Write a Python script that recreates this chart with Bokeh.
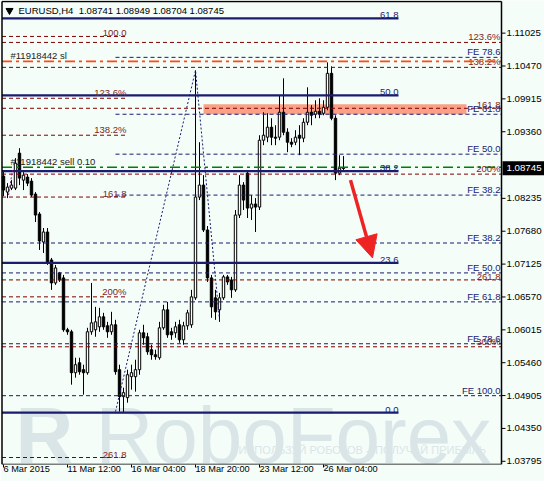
from bokeh.plotting import figure
from bokeh.models import FixedTicker, Arrow, NormalHead
from bokeh.core.properties import value
from bokeh.embed import file_html
from bokeh.resources import INLINE

# ---------------- data (EURUSD H4) ----------------
open_ = [
    1.08610, 1.08341, 1.08408, 1.08408, 1.08998, 1.08543, 1.08594, 1.08526, 1.08307, 1.07970,
    1.07498, 1.07667, 1.07195, 1.06807, 1.06976, 1.06892, 1.06016, 1.05982, 1.05291, 1.05459,
    1.05342, 1.05291, 1.05982, 1.06016, 1.06066, 1.06235, 1.06083, 1.05982, 1.06100, 1.05342,
    1.04887, 1.04870, 1.05224, 1.05224, 1.05342, 1.05965, 1.05898, 1.05679, 1.05594, 1.05544,
    1.06049, 1.06353, 1.05982, 1.05965, 1.06100, 1.05847, 1.06083, 1.06100, 1.06555, 1.08257,
    1.08459, 1.07701, 1.06892, 1.06555, 1.06353, 1.06555, 1.06909, 1.06858, 1.06690, 1.07953,
    1.08459, 1.08661, 1.08071, 1.08139, 1.08088, 1.09217, 1.09268, 1.09436, 1.09268, 1.09268,
    1.09689, 1.09352, 1.09183, 1.09183, 1.09301, 1.09251, 1.09520, 1.09689, 1.09655, 1.09706,
    1.09672, 1.09773, 1.10346, 1.09588, 1.08661, 1.08741]
high = [
    1.08712, 1.08492, 1.08543, 1.08914, 1.09082, 1.08678, 1.08644, 1.08577, 1.08341, 1.08004,
    1.07734, 1.07734, 1.07229, 1.07111, 1.06993, 1.06942, 1.06049, 1.06016, 1.05544, 1.05544,
    1.05426, 1.06049, 1.06807, 1.06403, 1.06386, 1.06302, 1.06150, 1.06319, 1.06184, 1.05426,
    1.05038, 1.05342, 1.05426, 1.05510, 1.06016, 1.06100, 1.05965, 1.05763, 1.05679, 1.06150,
    1.06437, 1.06487, 1.06049, 1.06150, 1.06184, 1.06150, 1.06353, 1.06690, 1.10397, 1.09183,
    1.08627, 1.07768, 1.06942, 1.06690, 1.06639, 1.06942, 1.06942, 1.06909, 1.08038, 1.08627,
    1.08509, 1.08712, 1.08290, 1.08240, 1.09301, 1.09689, 1.09672, 1.09588, 1.09470, 1.09975,
    1.10262, 1.09419, 1.09251, 1.09386, 1.09470, 1.09588, 1.10110, 1.09807, 1.09891, 1.09925,
    1.09891, 1.10531, 1.10464, 1.09638, 1.08964, 1.08949]
low = [
    1.08273, 1.08240, 1.08375, 1.08375, 1.08459, 1.08375, 1.08442, 1.08257, 1.07835, 1.07364,
    1.07313, 1.07111, 1.06690, 1.06774, 1.06824, 1.05982, 1.05931, 1.05089, 1.05207, 1.05257,
    1.04920, 1.05257, 1.05931, 1.05898, 1.05982, 1.06016, 1.05881, 1.05931, 1.05257, 1.04634,
    1.04617, 1.04785, 1.05005, 1.04971, 1.05257, 1.05763, 1.05594, 1.05510, 1.05510, 1.05510,
    1.06016, 1.05881, 1.05847, 1.05881, 1.05796, 1.05763, 1.06016, 1.06049, 1.06521, 1.08206,
    1.07667, 1.06824, 1.06218, 1.06184, 1.06150, 1.06521, 1.06774, 1.06555, 1.06656, 1.07903,
    1.08038, 1.07903, 1.07869, 1.07667, 1.08038, 1.09133, 1.09183, 1.09133, 1.09133, 1.09217,
    1.09301, 1.09015, 1.09099, 1.09133, 1.08964, 1.09183, 1.09470, 1.09470, 1.09588, 1.09588,
    1.09638, 1.09723, 1.09554, 1.08543, 1.08627, 1.08704]
close = [
    1.08375, 1.08425, 1.08459, 1.08829, 1.08577, 1.08627, 1.08492, 1.08290, 1.07953, 1.07515,
    1.07667, 1.07161, 1.06807, 1.07060, 1.06858, 1.06016, 1.05982, 1.05291, 1.05426, 1.05308,
    1.05291, 1.05982, 1.06133, 1.06150, 1.06235, 1.06066, 1.05982, 1.06100, 1.05308, 1.04887,
    1.04954, 1.05257, 1.05291, 1.05342, 1.05965, 1.05881, 1.05645, 1.05594, 1.05561, 1.06049,
    1.06353, 1.05931, 1.05931, 1.06066, 1.05847, 1.06083, 1.06302, 1.06572, 1.08257, 1.08459,
    1.07701, 1.06892, 1.06403, 1.06319, 1.06555, 1.06909, 1.06824, 1.06690, 1.07953, 1.08459,
    1.08206, 1.08071, 1.08139, 1.08088, 1.09217, 1.09301, 1.09436, 1.09268, 1.09251, 1.09689,
    1.09352, 1.09183, 1.09150, 1.09268, 1.09251, 1.09520, 1.09689, 1.09638, 1.09706, 1.09655,
    1.09773, 1.10346, 1.09588, 1.08661, 1.08745, 1.08745]
bar_index = list(range(len(close)))

time_tick_index = [0, 16, 32, 48, 64, 80]
time_tick_labels = ["6 Mar 2015", "11 Mar 12:00", "16 Mar 04:00",
                    "18 Mar 20:00", "23 Mar 12:00", "26 Mar 04:00"]
price_ticks = [1.11025, 1.10470, 1.09915, 1.09360, 1.08235, 1.07680, 1.07125,
               1.06570, 1.06015, 1.05460, 1.04905, 1.04350, 1.03795]

# Fibonacci retracement (solid navy)
fibo_levels = [1.11273, 1.09975, 1.08695, 1.07144, 1.04617]
fibo_labels = ["61.8", "50.0", "38.2", "23.6", "0.0"]
# Fibo expansion, full width (dark red dashed)
expA_levels = [1.10868, 1.10447, 1.09756, 1.08644, 1.06858, 1.05729]
expA_labels = ["123.6%", "138.2%", "161.8", "200%", "261.8", "300%"]
# Fibo expansion, short (dark red dashed)
expB_levels = [1.10969, 1.09925, 1.09301, 1.08257, 1.06572, 1.03859]
expB_labels = ["100.0", "123.6%", "138.2%", "161.8", "200%", "261.8"]
# Fibo extension 1 (navy dashed, starts at bar 28)
fe1_levels = [1.10616, 1.09655, 1.08981, 1.08290]
fe1_labels = ["FE 78.6", "FE 61.8", "FE 50.0", "FE 38.2"]
# Fibo extension 2 (navy dashed, full width)
fe2_levels = [1.07481, 1.06976, 1.06487, 1.05780, 1.04903]
fe2_labels = ["FE 38.2", "FE 50.0", "FE 61.8", "FE 78.6", "FE 100.0"]

sl_price = 1.10548
sell_price = 1.08760
zone_top, zone_bottom = 1.09824, 1.09655
zone_left, zone_right = 50, 115.75
zigzag_x = [28, 48, 54]
zigzag_y = [1.04634, 1.10397, 1.06184]
small_dot_x = [1.25, 2.25]
small_dot_y = [1.08290, 1.08712]
arrow_x = (86.75, 92.25)
arrow_y = (1.08543, 1.07229)

# ---------------- style / geometry ----------------
FONT = "Liberation Sans"
BG = "#f4fdf8"
NAVY = "#1b1b70"
MAROON = "#800000"
RED_TXT = "#7f1d1d"
SALMON = "#f9a086"
ORANGE = "#ff4a10"
GREEN = "#008000"
ARROW_RED = "#ee2424"
WM = "#dae5e8"

PX_PRICE = 0.0001685          # price per screen pixel (vertical)
X_START, X_END = -0.75, 135.25
Y_LOW, Y_HIGH = 1.03741, 1.11576
FRAME_L, FRAME_R = -0.375, 124.5
FRAME_B, FRAME_T = 1.03741, 1.11559
FULL_LABEL_X = 124.25
FIBO_RIGHT = 98.75
EXPB_RIGHT = 30.75
FE1_LEFT = 28
AX_TICK_END = 125.5
AX_LABEL_X = 125.75
LBL = "9.5px"
AX_FONT_SIZE = "9.7px"

p = figure(width=544, height=481, x_range=(X_START, X_END), y_range=(Y_LOW, Y_HIGH),
           y_axis_location=None, output_backend="svg", toolbar_location=None,
           background_fill_color=BG, border_fill_color=BG,
           min_border_left=0, min_border_top=0, min_border_right=0, min_border_bottom=0)
p.grid.visible = False
p.outline_line_color = None

# time axis: tick marks at the bars; a tiny negative orientation makes Bokeh
# anchor each label at its left edge (MT4 style) instead of centering it.
xa = p.xaxis[0]
xa.axis_label = None
xa.ticker = FixedTicker(ticks=time_tick_index)
xa.major_label_overrides = {t: s for t, s in zip(time_tick_index, time_tick_labels)}
xa.major_label_orientation = -0.0001
xa.major_label_standoff = 1
xa.major_label_text_font = FONT
xa.major_label_text_font_size = "9.2px"
xa.major_label_text_color = "black"
xa.major_tick_in = 0
xa.major_tick_out = 3
xa.minor_tick_in = 0
xa.minor_tick_out = 0
xa.axis_line_color = None
xa.major_tick_line_color = "black"

# ---------------- watermark ----------------
wm_base = 1.04229
p.text(x=[3], y=[wm_base], text=["R"], text_font=value(FONT), text_font_style="bold",
       text_font_size="80px", text_color=WM, text_baseline="alphabetic")
p.text(x=[23], y=[wm_base], text=["RoboForex"], text_font=value(FONT),
       text_font_size="80px", text_color=WM, text_baseline="alphabetic")
p.text(x=[58.75], y=[1.03994], text=["ИСПОЛЬЗУЙ РОБОТОВ – ПОЛУЧАЙ ПРИБЫЛЬ"],
       text_font=value(FONT), text_font_size="11px", text_color=WM, text_baseline="middle")


def hlines(levels, x0, x1, color, width, dash):
    n = len(levels)
    p.segment(x0=[x0] * n, y0=levels, x1=[x1] * n, y1=levels,
              line_color=color, line_width=width, line_dash=dash)


def tags(levels, texts, x, color, align="right", size=LBL, baseline="bottom"):
    p.text(x=[x] * len(levels), y=levels, text=texts, text_align=align,
           text_baseline=baseline, text_font=value(FONT), text_font_size=size,
           text_color=color)


tags(expA_levels, expA_labels, FULL_LABEL_X, RED_TXT)

# zone
p.quad(left=[zone_left], right=[zone_right], bottom=[zone_bottom], top=[zone_top],
       fill_color=SALMON, line_color=None)

# ---------------- candles ----------------
body_top = [max(o, c) for o, c in zip(open_, close)]
body_bot = [min(o, c) for o, c in zip(open_, close)]
body_col = ["white" if c >= o else "black" for o, c in zip(open_, close)]
p.segment(x0=bar_index, y0=low, x1=bar_index, y1=high, line_color="black", line_width=1)
p.vbar(x=bar_index, width=0.6, top=body_top, bottom=body_bot,
       fill_color=body_col, line_color="black", line_width=1)

# ---------------- levels ----------------
hlines(expA_levels, FRAME_L, FRAME_R, MAROON, 1, "4 3")
hlines(expB_levels, FRAME_L, EXPB_RIGHT, MAROON, 1, "4 3")
hlines(fe1_levels, FE1_LEFT, FRAME_R, NAVY, 1, "4 3")
hlines(fe2_levels, FRAME_L, FRAME_R, NAVY, 1, "4 3")
hlines([sl_price], FRAME_L, FRAME_R, ORANGE, 1.6, "10 4 3 4")
hlines([sell_price], FRAME_L, FRAME_R, GREEN, 1.4, "10 4 3 4")
hlines(fibo_levels, FRAME_L, FIBO_RIGHT, NAVY, 2.2, "solid")

p.line(x=zigzag_x, y=zigzag_y, line_color=NAVY, line_width=1, line_dash="2 2")
p.line(x=small_dot_x, y=small_dot_y, line_color="#7a1f8a", line_width=1, line_dash="2 2")

tags(expB_levels, expB_labels, EXPB_RIGHT, RED_TXT)
tags(fe1_levels, fe1_labels, FULL_LABEL_X, NAVY)
tags(fe2_levels, fe2_labels, FULL_LABEL_X, NAVY)
tags(fibo_levels, fibo_labels, FIBO_RIGHT, NAVY)
tags([sl_price], ["#11918442 sl"], 1.75, "#222222", align="left")
tags([sell_price], ["#11918442 sell 0.10"], 1.75, "#222222", align="left")

# ---------------- chart frame and price scale ----------------
p.segment(x0=[FRAME_L, FRAME_R, FRAME_L, FRAME_L], y0=[FRAME_B, FRAME_B, FRAME_B, FRAME_T],
          x1=[FRAME_L, FRAME_R, FRAME_R, FRAME_R], y1=[FRAME_T, FRAME_T, FRAME_B, FRAME_T],
          line_color="black", line_width=1.5)
n_t = len(price_ticks)
p.segment(x0=[FRAME_R] * n_t, y0=price_ticks, x1=[AX_TICK_END] * n_t, y1=price_ticks,
          line_color="black", line_width=1)
tags(price_ticks, ["{:.5f}".format(t) for t in price_ticks], AX_LABEL_X, "black",
     align="left", size=AX_FONT_SIZE, baseline="middle")

# current price box
box_half = 7 * PX_PRICE
p.quad(left=[FRAME_R + 0.25], right=[X_END], bottom=[close[-1] - box_half],
       top=[close[-1] + box_half], fill_color="black", line_color=None)
tags([close[-1]], ["{:.5f}".format(close[-1])], AX_LABEL_X, "white",
     align="left", size=AX_FONT_SIZE, baseline="middle")

# title
title_y = 1.11576 - 10 * PX_PRICE
p.scatter(x=[1.5], y=[title_y], marker="inverted_triangle", size=7,
          fill_color="black", line_color="black")
title = "EURUSD,H4\u00a0 {:.5f} {:.5f} {:.5f} {:.5f}".format(open_[-1], high[-1], low[-1], close[-1])
tags([title_y], [title], 3.75, "black", align="left", size=LBL, baseline="middle")

# arrow
p.add_layout(Arrow(end=NormalHead(size=22, fill_color=ARROW_RED, line_color=ARROW_RED),
                   x_start=arrow_x[0], y_start=arrow_y[0], x_end=arrow_x[1], y_end=arrow_y[1],
                   line_color=ARROW_RED, line_width=3.5))

open("out.html", "w").write(file_html(p, INLINE))
